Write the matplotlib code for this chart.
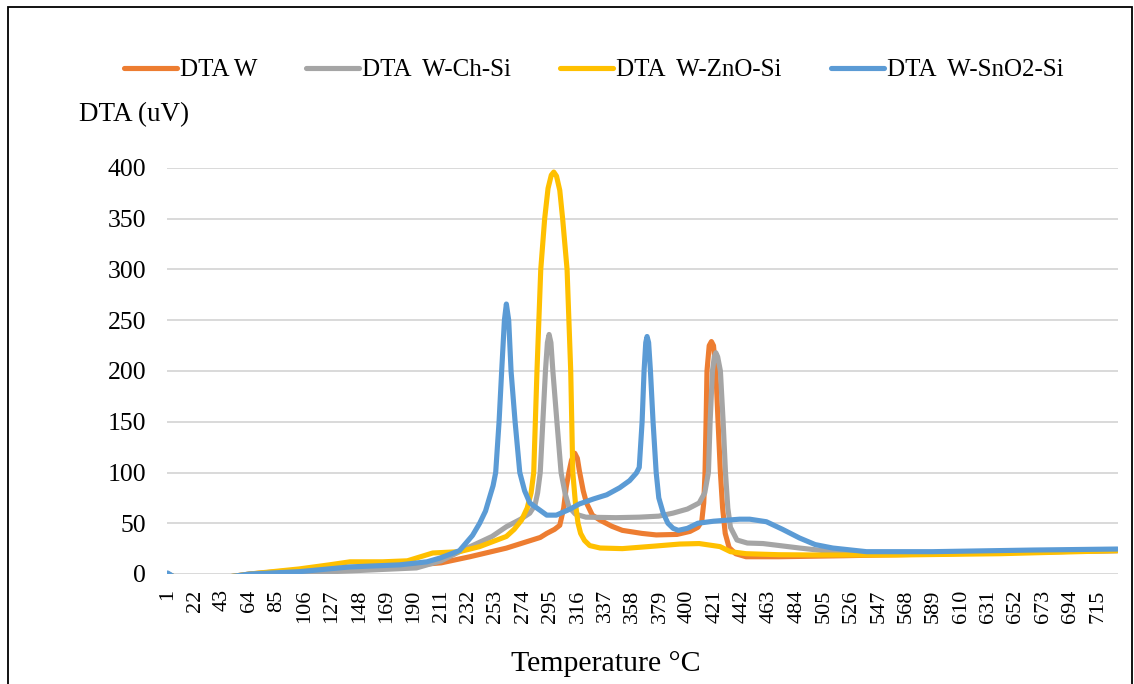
import matplotlib.pyplot as plt
from matplotlib.patches import Rectangle

plt.rcParams['font.family'] = ['Liberation Serif', 'DejaVu Serif']

# category index of the x axis (labels 1, 22, 43 ... 715)
n_points = 730
tick_labels = list(range(1, 716, 21))

# DTA W
x_w = [1, 8, 30, 64, 102, 140, 166, 192, 211, 233, 261, 287, 292, 298, 302, 305, 307,
       309, 311, 313.5, 315.5, 317, 320, 322.5, 327, 333, 342, 350, 365, 376, 392, 402,
       408, 411, 412.5, 413.5, 414.3, 415, 416.7, 418.4, 420, 421.8, 423.5, 425.3, 427,
       429, 432, 437, 445, 470, 520, 600, 680, 730]
y_w = [0, -4, -6, 0, 4, 5, 6, 9, 11, 17, 25.5, 36, 40, 44, 48, 65, 86,
       100, 112, 119, 114, 102, 82, 70, 58, 53, 47, 43, 40, 38.5, 39, 42,
       46, 52, 70, 100, 150, 200, 225, 229, 225, 200, 150, 100, 65,
       40, 26, 20, 17, 17, 18, 20, 22, 23]

# DTA W-Ch-Si
x_ch = [1, 8, 30, 64, 102, 140, 192, 211, 225, 235, 250, 261, 272, 279, 283, 285,
        287, 289, 291, 292.5, 293.8, 295.2, 296.7, 299.8, 303, 306, 309, 314, 322, 345,
        363, 378, 389, 400, 409, 413.3, 416.1, 417.4, 419.2, 420.6, 421.8, 423.2, 425.3,
        427.4, 429.2, 431, 433, 438, 446, 458, 486, 511.5, 540, 600, 680, 730]
y_ch = [0, -4, -6, -1, 1, 3, 6, 13, 22, 28, 37, 46.6, 54, 60, 68, 80,
        100, 150, 200, 228, 236, 228, 200, 150, 100, 80, 66, 59, 56, 55.5,
        56, 57, 60, 64, 70, 80, 100, 150, 200, 214, 218, 214, 200,
        150, 100, 65, 46, 33.5, 30.5, 30, 25.6, 22, 21, 21, 22, 23]

# DTA W-ZnO-Si
x_zn = [1, 8, 30, 64, 102, 125, 141, 166, 185, 204.5, 225, 240.5, 261, 267, 272.6, 277,
        280, 282, 284.5, 287.4, 290.4, 293, 295.5, 297.4, 299.5, 302, 304.2, 307.6,
        310.4, 312, 314, 316, 318, 321, 325, 333, 350, 375, 394, 409, 425, 433, 445,
        470, 500, 560, 640, 730]
y_zn = [0, -4, -6, 0, 5, 9, 12, 12, 13, 20.7, 22, 27, 37, 44, 53, 65,
        80, 100, 200, 300, 350, 380, 393, 396, 392, 378, 350, 300,
        200, 100, 70, 50, 40, 33, 28, 25.6, 25, 27.5, 29.5, 30, 27, 22, 20,
        19, 18.7, 18.7, 20, 23]

# DTA W-SnO2-Si
x_sn = [1, 6, 30, 64, 102, 141, 179, 200, 210, 225, 235, 240.5, 245, 248, 250.8, 252.8,
        255.4, 257.4, 259.5, 261, 262.8, 264.6, 267.7, 271.3, 275, 279, 286.6, 292, 299.4,
        310, 317, 328, 338, 348, 355.6, 360.8, 363, 365.2, 366.7, 368, 369, 370.2, 371.6,
        373.6, 376, 378, 381.4, 385, 389, 393, 400, 408, 420, 440, 447.8, 460.6,
        473, 486, 498, 511.5, 537.4, 588, 665, 730]
y_sn = [1, -3, -6, 0, 2.3, 7, 9, 12, 15.7, 23, 38, 50, 62, 75, 87, 100,
        150, 200, 250, 266, 250, 200, 150, 100, 82, 70, 63, 58, 58,
        64, 69, 74, 78, 85, 92, 99.5, 105, 150, 200, 228, 234, 228, 200,
        150, 100, 75, 60, 50, 45, 43, 45, 50, 52, 54, 54, 51.5,
        44, 35.5, 29, 25.6, 22, 22, 23.6, 24.6]

series = [
    ('DTA W', x_w, y_w, '#ED7D31'),
    ('DTA  W-Ch-Si', x_ch, y_ch, '#A5A5A5'),
    ('DTA  W-ZnO-Si', x_zn, y_zn, '#FFC000'),
    ('DTA  W-SnO2-Si', x_sn, y_sn, '#5B9BD5'),
]

fig = plt.figure(figsize=(11.34, 6.84), dpi=100)
ax = fig.add_axes([167 / 1134, 1 - 574 / 684, (1118 - 167) / 1134, (574 - 168) / 684])

for name, xs, ys, col in series:
    ax.plot(xs, ys, color=col, lw=3.7, label=name,
            solid_capstyle='round', solid_joinstyle='round')

ax.set_xlim(0.5, n_points + 0.5)
ax.set_ylim(0, 400)
ax.set_yticks(range(0, 401, 50))
ax.set_xticks(tick_labels)
ax.set_xticklabels([str(t) for t in tick_labels], rotation=90, fontsize=16)
ax.tick_params(axis='y', labelsize=18.5, length=0, pad=15)
ax.tick_params(axis='x', length=0, pad=11)
ax.grid(axis='y', color='#D9D9D9', lw=1.4)
ax.set_axisbelow(True)
for s in ax.spines.values():
    s.set_visible(False)

fig.legend(loc='center', bbox_to_anchor=(593.5 / 1134, 1 - 70 / 684), ncol=4,
           frameon=False, fontsize=18, handlelength=2.12, handletextpad=0.12,
           columnspacing=1.96)

fig.text(79 / 1134, 1 - 115 / 684, 'DTA (uV)', fontsize=19.5, ha='left', va='center')
fig.text(606 / 1134, 1 - 664 / 684, 'Temperature °C', fontsize=21.5, ha='center', va='center')

# chart border
fig.patches.append(Rectangle((8 / 1134, -0.1), (1132 - 8) / 1134, 1.1 - 7 / 684,
                             transform=fig.transFigure, fill=False, ec='black', lw=1.3))

fig.savefig('out.png', dpi=100)
